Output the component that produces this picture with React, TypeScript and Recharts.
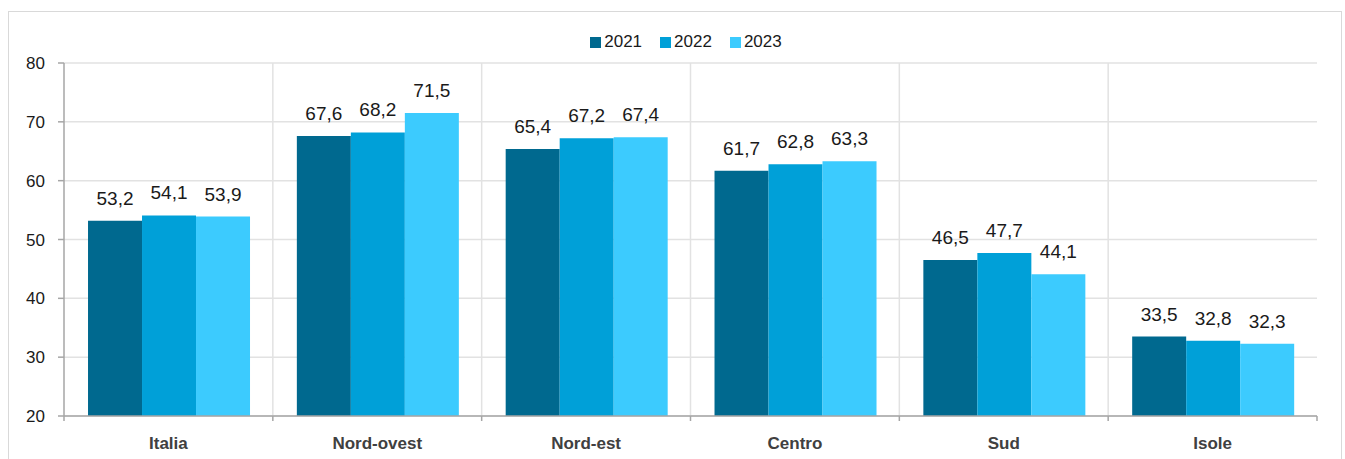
import { BarChart, Bar, XAxis, YAxis, CartesianGrid, Legend, LabelList } from 'recharts'

const regions = ['Italia', 'Nord-ovest', 'Nord-est', 'Centro', 'Sud', 'Isole']
const y2021 = [53.2, 67.6, 65.4, 61.7, 46.5, 33.5]
const y2022 = [54.1, 68.2, 67.2, 62.8, 47.7, 32.8]
const y2023 = [53.9, 71.5, 67.4, 63.3, 44.1, 32.3]
const yTicks = [20, 30, 40, 50, 60, 70, 80]

const series = [
  { key: '2021', color: '#00698f' },
  { key: '2022', color: '#00a0d8' },
  { key: '2023', color: '#3ccbfe' },
]

const data = regions.map((r, i) => ({
  name: r,
  '2021': y2021[i],
  '2022': y2022[i],
  '2023': y2023[i],
}))

const FONT = '"Liberation Sans", Arial, sans-serif'
const AXIS = '#a6a6a6'
const GRID = '#e2e2e2'

const fmt = (v: any) => Number(v).toFixed(1).replace('.', ',')

function XTick({ x, y, payload }: any) {
  const half = payload?.offset ?? 0
  return (
    <g>
      <line x1={x - half} y1={y - 8} x2={x - half} y2={y - 3} stroke={AXIS} strokeWidth={1.5} />
      {payload.index === regions.length - 1 && (
        <line x1={x + half} y1={y - 8} x2={x + half} y2={y - 3} stroke={AXIS} strokeWidth={1.5} />
      )}
      <text x={x} y={y + 25} textAnchor="middle" fontFamily={FONT} fontSize={17} fontWeight="bold" fill="#404040">
        {payload.value}
      </text>
    </g>
  )
}

function LegendContent() {
  return (
    <div style={{ display: 'flex', justifyContent: 'center', gap: 18, paddingLeft: 46, fontFamily: FONT, fontSize: 17, color: '#1a1a1a' }}>
      {series.map((s) => (
        <div key={s.key} style={{ display: 'flex', alignItems: 'center', gap: 3 }}>
          <span style={{ width: 11, height: 11, background: s.color, display: 'inline-block' }} />
          <span>{s.key}</span>
        </div>
      ))}
    </div>
  )
}

export default function App() {
  return (
    <div style={{ position: 'absolute', left: 8, top: 11, width: 1332, height: 460, border: '1px solid #d9d9d9', background: '#fff' }}>
      <BarChart
        width={1330}
        height={458}
        data={data}
        margin={{ top: 31, right: 22, bottom: 24, left: 0 }}
        barCategoryGap="11.5%"
        barGap={0}
      >
        <CartesianGrid
          stroke={GRID}
          strokeWidth={1.5}
          verticalCoordinatesGenerator={({ offset }: any) =>
            regions.slice(1).map((_, i) => offset.left + ((i + 1) * offset.width) / regions.length)
          }
        />
        <Legend verticalAlign="top" align="center" content={LegendContent} wrapperStyle={{ top: 20 }} />
        <XAxis
          dataKey="name"
          height={30}
          stroke={AXIS}
          strokeWidth={1.5}
          tickLine={false}
          tick={<XTick />}
          interval={0}
        />
        <YAxis
          width={55}
          domain={[20, 80]}
          ticks={yTicks}
          stroke={AXIS}
          strokeWidth={1.5}
          tickSize={6}
          tickMargin={13}
          tick={{ fontFamily: FONT, fontSize: 17, fill: '#1a1a1a' }}
        />
        {series.map((s) => (
          <Bar key={s.key} dataKey={s.key} fill={s.color} isAnimationActive={false}>
            <LabelList
              dataKey={s.key}
              position="top"
              offset={16}
              formatter={fmt}
              style={{ fontFamily: FONT, fontSize: 19, fill: '#1a1a1a' }}
            />
          </Bar>
        ))}
      </BarChart>
    </div>
  )
}
